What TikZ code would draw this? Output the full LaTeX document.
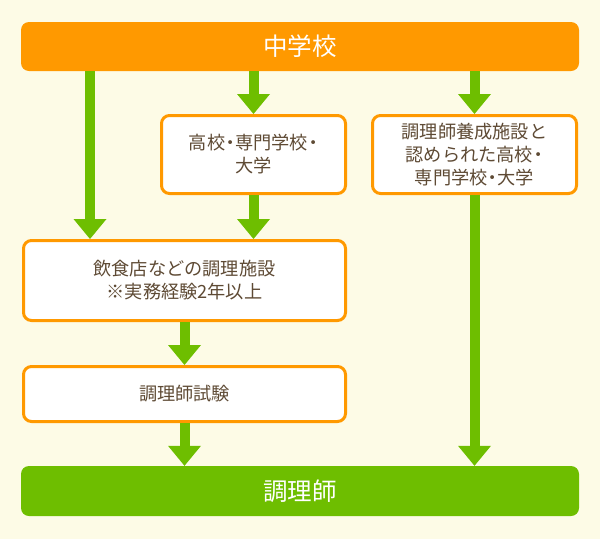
\documentclass[tikz,border=0pt]{standalone}
\usepackage{fontspec}
\setmainfont{Noto Sans CJK JP}
\usetikzlibrary{arrows.meta}
\definecolor{bgc}{HTML}{FDFBE6}
\definecolor{orng}{HTML}{FF9900}
\definecolor{grn}{HTML}{6EBE00}
\definecolor{txt}{HTML}{5E4A34}
\newcommand{\nk}{\makebox[0.55em][c]{・}}
\tikzset{
  bar/.style={fill=#1, rounded corners=8pt, inner sep=0pt, text=white,
    font=\fontsize{24.5}{28}\selectfont, minimum height=49pt, minimum width=558pt},
  box/.style={draw=orng, line width=3pt, fill=white, rounded corners=8pt, inner sep=0pt,
    text=txt, align=center, font=\fontsize{18.2}{23}\selectfont},
  flow/.style={draw=grn, line width=10pt,
    -{Triangle[length=20pt,width=33pt,line width=0pt]}},
}
\begin{document}
\begin{tikzpicture}[x=1pt,y=-1pt]
  \fill[bgc] (0,0) rectangle (600,539);
  \useasboundingbox (0,0) rectangle (600,539);
  \node[bar=orng] (top) at (300,46.5) {中学校};
  \node[bar=grn, minimum height=50pt] (chef) at (300,491) {調理師};
  \node[box, minimum width=184pt, minimum height=78pt] (hs) at (253.5,154.5) {高校\nk 専門学校\nk\\大学};
  \node[box, minimum width=204pt, minimum height=78pt] (train) at (474.5,154.5) {調理師養成施設と\\認められた高校\nk\\専門学校\nk 大学};
  \node[box, minimum width=322pt, minimum height=80pt] (work) at (184.5,280.5) {飲食店などの調理施設\\※実務経験2年以上};
  \node[box, minimum width=322pt, minimum height=55pt] (exam) at (184.5,394) {調理師試験};
  \coordinate (cx) at (90,0);
  \draw[flow] (top.south -| cx) -- (work.north -| cx);
  \draw[flow] (top.south -| hs) -- (hs.north);
  \draw[flow] (top.south -| train) -- (train.north);
  \draw[flow] (hs.south) -- (work.north -| hs);
  \draw[flow] (work.south) -- (exam.north);
  \draw[flow] (exam.south) -- (chef.north -| exam);
  \draw[flow] (train.south) -- (chef.north -| train);
\end{tikzpicture}
\end{document}
